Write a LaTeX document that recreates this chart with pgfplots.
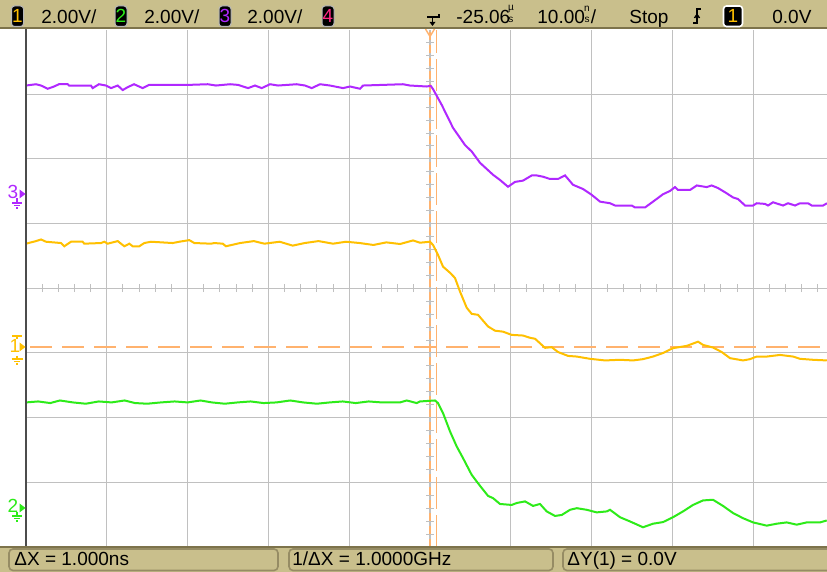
\documentclass[border=0pt]{standalone}
\usepackage{fontspec}
\setmainfont{Liberation Sans}
\usepackage{pgfplots}
\usepackage{pgfplotstable}
\pgfplotsset{compat=1.18}
\definecolor{khaki}{RGB}{201,191,140}
\definecolor{khakidark}{RGB}{125,115,75}
\definecolor{boxedge}{RGB}{150,140,100}
\definecolor{chyel}{RGB}{255,192,0}
\definecolor{chgrn}{RGB}{45,235,25}
\definecolor{chpur}{RGB}{176,40,255}
\definecolor{chpink}{RGB}{255,40,130}
\definecolor{curs}{RGB}{255,178,110}
\definecolor{gridc}{RGB}{192,192,192}
\newcommand\hdr{\fontsize{9.5}{10}\selectfont}

% channel 3 (purple), time in ns, voltage in V
\pgfplotstableread{
t v
-50.00 3.35
-48.76 3.39
-48.14 3.35
-47.31 3.25
-46.53 3.32
-45.92 3.39
-44.84 3.39
-44.68 3.35
-41.96 3.35
-41.75 3.27
-40.97 3.39
-40.10 3.35
-39.48 3.27
-38.65 3.35
-38.03 3.21
-37.41 3.30
-36.63 3.39
-35.56 3.27
-34.78 3.37
-33.08 3.37
-31.23 3.37
-29.83 3.37
-27.51 3.39
-26.49 3.35
-24.75 3.39
-23.76 3.37
-22.52 3.27
-21.66 3.35
-20.83 3.27
-19.80 3.39
-18.81 3.35
-16.50 3.39
-15.47 3.35
-14.64 3.27
-13.61 3.39
-12.38 3.35
-10.77 3.27
-9.90 3.32
-8.66 3.25
-8.29 3.35
-3.34 3.39
-2.48 3.35
-0.41 3.32
0.09 3.34
0.37 3.24
1.45 2.75
2.85 2.04
4.33 1.51
5.16 1.31
6.19 0.96
7.80 0.59
8.66 0.43
9.65 0.22
10.52 0.37
11.51 0.41
12.59 0.57
13.21 0.57
13.99 0.53
14.85 0.46
15.84 0.46
16.71 0.57
17.70 0.28
18.94 0.15
20.01 -0.03
21.04 -0.24
22.28 -0.29
22.90 -0.36
24.96 -0.36
25.37 -0.42
26.61 -0.42
27.60 -0.24
28.84 -0.01
29.70 0.09
30.32 0.21
30.69 0.12
32.18 0.12
33.01 0.26
34.24 0.21
34.86 0.26
35.64 0.18
36.51 0.05
37.50 -0.11
38.12 -0.16
38.99 -0.36
39.98 -0.36
40.43 -0.29
41.46 -0.31
41.83 -0.36
42.45 -0.26
43.69 -0.36
44.31 -0.29
45.17 -0.36
45.79 -0.29
46.78 -0.29
47.24 -0.36
48.64 -0.36
49.13 -0.29
}\chthree

% channel 1 (yellow)
\pgfplotstableread{
t v
-50.00 3.19
-48.76 3.27
-48.14 3.32
-47.52 3.25
-45.67 3.21
-45.26 3.11
-44.43 3.25
-42.99 3.25
-42.79 3.19
-40.72 3.21
-40.31 3.25
-39.89 3.19
-38.65 3.27
-37.83 3.11
-37.21 3.19
-36.80 3.11
-35.98 3.11
-35.36 3.21
-34.53 3.25
-31.85 3.21
-31.03 3.25
-29.79 3.30
-29.17 3.21
-27.10 3.19
-26.69 3.21
-25.65 3.19
-25.25 3.11
-23.50 3.21
-21.80 3.27
-20.50 3.19
-18.60 3.25
-17.00 3.13
-15.50 3.21
-13.80 3.27
-12.00 3.19
-10.40 3.25
-8.70 3.21
-7.00 3.15
-5.40 3.23
-3.71 3.18
-2.10 3.29
-1.24 3.22
0.00 3.25
0.37 3.15
0.99 2.84
1.61 2.48
2.48 2.29
3.09 2.13
3.71 1.71
4.54 1.21
5.16 1.02
5.94 0.99
7.18 0.63
8.04 0.50
9.03 0.47
10.11 0.37
11.51 0.35
12.38 0.28
13.00 0.25
14.23 -0.03
15.06 -0.01
15.84 -0.16
17.08 -0.28
18.16 -0.30
19.80 -0.37
21.66 -0.42
23.51 -0.40
25.12 -0.42
26.36 -0.38
27.60 -0.30
28.84 -0.19
30.07 -0.04
31.77 0.03
33.17 0.16
33.79 0.06
35.02 -0.02
36.10 -0.16
37.13 -0.35
38.74 -0.42
39.60 -0.38
40.43 -0.30
41.67 -0.30
43.32 -0.25
44.93 -0.30
45.79 -0.37
47.40 -0.40
49.10 -0.42
}\chone

% channel 2 (green)
\pgfplotstableread{
t v
-50.00 3.29
-48.50 3.32
-47.00 3.27
-45.80 3.35
-44.20 3.29
-42.60 3.25
-41.00 3.32
-39.40 3.29
-37.80 3.35
-36.50 3.27
-35.00 3.25
-33.30 3.29
-31.60 3.32
-30.00 3.29
-28.40 3.35
-27.00 3.29
-25.40 3.25
-23.80 3.29
-22.20 3.32
-20.60 3.27
-19.00 3.29
-17.30 3.35
-15.70 3.29
-14.00 3.25
-12.40 3.29
-10.80 3.32
-9.20 3.27
-7.60 3.32
-6.00 3.29
-3.71 3.29
-2.88 3.35
-1.65 3.27
-1.24 3.32
0.62 3.35
0.99 3.27
1.61 2.96
2.48 2.39
3.30 1.93
4.08 1.57
5.16 1.05
6.19 0.71
7.18 0.40
7.80 0.33
8.66 0.15
10.11 0.12
10.73 0.18
11.76 0.23
12.75 0.09
13.61 0.15
14.44 -0.08
15.47 -0.22
16.30 -0.19
17.33 -0.03
18.16 0.02
19.39 -0.03
20.63 -0.11
21.87 -0.08
22.28 -0.03
23.51 -0.26
24.75 -0.39
26.36 -0.57
27.60 -0.46
28.84 -0.41
30.07 -0.26
31.31 -0.08
32.55 0.12
33.79 0.26
35.02 0.28
36.26 0.09
37.50 -0.13
38.74 -0.29
39.98 -0.42
41.67 -0.52
42.91 -0.46
44.14 -0.42
45.38 -0.49
46.62 -0.42
48.27 -0.42
49.10 -0.36
}\chtwo

\begin{document}
\begin{tikzpicture}[x=0.5pt,y=0.5pt]
\useasboundingbox (0,0) rectangle (827,572);
\fill[white] (0,0) rectangle (827,572);
\begin{axis}[
  at={(13pt,12.5pt)}, anchor=south west,
  width=400.5pt, height=258.75pt, scale only axis,
  xmin=-50, xmax=49.13, ymin=-4, ymax=4,
  axis line style={draw=none},
  xtick={-40,-30,...,40}, ytick={-3,-2,...,3},
  xticklabels={}, yticklabels={},
  tick label style={text opacity=0},
  major tick length=0pt,
  grid=major, major grid style={draw=gridc, line width=0.55pt},
  clip=true]
  \pgfplotsinvokeforeach{-48,-46,...,48}{
    \draw[gridc, line width=0.5pt] ([yshift=-2pt]axis cs:#1,0) -- ([yshift=2pt]axis cs:#1,0);}
  \pgfplotsinvokeforeach{-3.8,-3.6,...,3.8}{
    \draw[gridc, line width=0.5pt] ([xshift=-2pt]axis cs:0,#1) -- ([xshift=2pt]axis cs:0,#1);}
  \draw[curs, line width=0.8pt, dash pattern=on 11pt off 5pt] (axis cs:-49.5,-0.906) -- (axis cs:49.13,-0.906);
  \draw[curs, line width=0.9pt, dash pattern=on 4pt off 2.5pt] (axis cs:0,-4) -- (axis cs:0,4);
  \draw[curs, line width=0.6pt, dash pattern=on 16pt off 3pt] (axis cs:0.85,-4) -- (axis cs:0.85,4);
  \addplot[chpur, line width=1pt, no marks] table[x=t, y expr=\thisrow{v}/2+1.459] {\chthree};
  \addplot[chyel, line width=1pt, no marks] table[x=t, y expr=\thisrow{v}/2-0.906] {\chone};
  \addplot[chgrn, line width=1pt, no marks] table[x=t, y expr=\thisrow{v}/2-3.41] {\chtwo};
\end{axis}
% left border
\draw[gray!60!black, line width=0.8pt] (26,25) -- (26,544);
% trigger marker
\draw[curs, line width=0.7pt] (425.5,543) -- (430,535.5) -- (434.5,543);
% header
\fill[khaki] (0,544) rectangle (827,572);
\draw[khakidark, line width=0.8pt] (0,544) -- (827,544);
\newcommand\chbox[3]{%
  \filldraw[fill=black, draw=gray!55, rounded corners=1.5pt, line width=0.5pt] (#1-6,545.5) rectangle (#1+6,566);
  \node[text=#2, font=\hdr, inner sep=0pt, anchor=base] at (#1,549) {#3};}
\chbox{17.5}{chyel}{1}
\chbox{121}{chgrn}{2}
\chbox{225}{chpur}{3}
\chbox{328}{chpink}{4}
\node[anchor=base west, inner sep=0pt, font=\hdr] at (41,548) {2.00V/};
\node[anchor=base west, inner sep=0pt, font=\hdr] at (144,548) {2.00V/};
\node[anchor=base west, inner sep=0pt, font=\hdr] at (247,548) {2.00V/};
% trigger position icon
\draw[black, line width=0.8pt] (427,555) -- (439,555) -- (439,558);
\draw[black, line width=0.8pt] (432.5,555) -- (432.5,549);
\fill[black] (429.5,550) -- (435.5,550) -- (432.5,546) -- cycle;
\node[anchor=base west, inner sep=0pt, font=\hdr] at (456,548) {-25.06};
\node[inner sep=0pt, font=\fontsize{5}{5}\selectfont] at (511,563) {µ};
\node[inner sep=0pt, font=\fontsize{5}{5}\selectfont] at (511,552) {s};
\node[anchor=base west, inner sep=0pt, font=\hdr] at (537,548) {10.00};
\node[inner sep=0pt, font=\fontsize{5}{5}\selectfont] at (587,563) {n};
\node[inner sep=0pt, font=\fontsize{5}{5}\selectfont] at (587,552) {s};
\node[anchor=base west, inner sep=0pt, font=\hdr] at (590.5,548) {/};
\node[anchor=base west, inner sep=0pt, font=\hdr] at (629,548) {Stop};
% edge icon
\draw[black, line width=0.8pt] (693,549) -- (697,549) -- (697,563) -- (701,563);
\draw[black, line width=0.7pt] (694.5,554) -- (697,557.5) -- (699.5,554);
\filldraw[fill=black, draw=white, rounded corners=1.5pt, line width=0.8pt] (723.5,545.5) rectangle (742.5,566);
\node[text=chyel, font=\hdr, inner sep=0pt, anchor=base] at (733,549) {1};
\node[anchor=base west, inner sep=0pt, font=\hdr] at (772,548) {0.0V};
% left channel markers
\node[text=chpur, font=\hdr, inner sep=0pt, anchor=base] at (13,373) {3};
\fill[chpur] (19.5,382.5) -- (19.5,373.5) -- (25.5,378) -- cycle;
\draw[chpur, line width=0.6pt] (17,374) -- (17,369) (12,369) -- (22,369) (14,366.5) -- (20,366.5) (16,364) -- (18,364);
\node[text=chyel, font=\hdr, inner sep=0pt, anchor=base] at (15,219.5) {1};
\fill[chyel] (19.5,229.5) -- (19.5,220.5) -- (25.5,225) -- cycle;
\draw[chyel, line width=0.6pt] (12,236) -- (22,236) (17,236) -- (17,233);
\draw[chyel, line width=0.6pt] (17,216) -- (17,213) (11.5,213) -- (22.5,213) (14,210.5) -- (20,210.5) (16,208) -- (18,208);
\node[text=chgrn, font=\hdr, inner sep=0pt, anchor=base] at (13,59) {2};
\fill[chgrn] (19.5,68.5) -- (19.5,59.5) -- (25.5,64) -- cycle;
\draw[chgrn, line width=0.6pt] (17,60) -- (17,56) (12,56) -- (22,56) (14,53.5) -- (20,53.5) (16,51) -- (18,51);
% bottom bar
\fill[khaki] (0,0) rectangle (827,25);
\draw[khakidark, line width=0.6pt] (0,25) -- (827,25);
\filldraw[fill=khaki, draw=boxedge, rounded corners=2pt, line width=0.8pt] (9,1.5) rectangle (278,23);
\filldraw[fill=khaki, draw=boxedge, rounded corners=2pt, line width=0.8pt] (289,1.5) rectangle (553,23);
\filldraw[fill=khaki, draw=boxedge, rounded corners=2pt, line width=0.8pt] (563,1.5) rectangle (840,23);
\node[anchor=base west, inner sep=0pt, font=\hdr] at (14,6) {ΔX = 1.000ns};
\node[anchor=base west, inner sep=0pt, font=\hdr] at (292,6) {1/ΔX = 1.0000GHz};
\node[anchor=base west, inner sep=0pt, font=\hdr] at (567,6) {ΔY(1) = 0.0V};
\end{tikzpicture}
\end{document}
